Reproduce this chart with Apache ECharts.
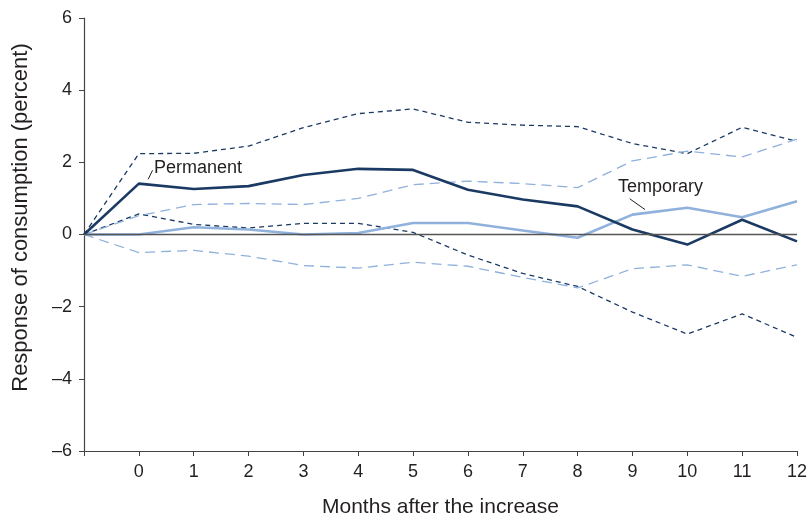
<!DOCTYPE html>
<html lang="en">
<head>
    <meta charset="UTF-8">
    <title>Response of consumption</title>
    <script src="https://cdn.jsdelivr.net/npm/echarts/dist/echarts.min.js"></script>
    <style>
        body { margin: 0; background: #fff; }
    </style>
</head>
<body>
    <div id="chart" style="width: 809px; height: 513px;"></div>
    <script>
        // months after the increase (-1 = before)
        const months = [-1, 0, 1, 2, 3, 4, 5, 6, 7, 8, 9, 10, 11, 12];

        const permanent = [0, 1.41, 1.26, 1.34, 1.65, 1.82, 1.79, 1.24, 0.97, 0.78, 0.14, -0.28, 0.41, -0.19];
        const permanentUpper = [0, 2.24, 2.25, 2.45, 2.96, 3.35, 3.48, 3.11, 3.03, 2.99, 2.52, 2.24, 2.97, 2.58];
        const permanentLower = [0, 0.57, 0.28, 0.18, 0.31, 0.31, 0.06, -0.57, -1.08, -1.44, -2.15, -2.76, -2.2, -2.85];

        const temporary = [0, 0, 0.2, 0.14, 0, 0.04, 0.32, 0.32, 0.11, -0.09, 0.55, 0.74, 0.48, 0.92];
        const temporaryUpper = [0, 0.52, 0.83, 0.86, 0.83, 1.0, 1.38, 1.48, 1.41, 1.3, 2.04, 2.31, 2.15, 2.64];
        const temporaryLower = [0, -0.5, -0.44, -0.6, -0.86, -0.93, -0.77, -0.88, -1.19, -1.48, -0.95, -0.84, -1.16, -0.84];

        const yTicks = [-6, -4, -2, 0, 2, 4, 6];

        const dark = '#1b3a63';
        const light = '#8fb1dc';
        const textColor = '#231f20';

        const pairs = arr => months.map((m, i) => [m, arr[i]]);

        const chart = echarts.init(document.getElementById('chart'));

        const options = {
            animation: false,
            textStyle: { fontFamily: 'Liberation Sans', color: textColor },
            grid: { left: 84, right: 12, top: 18, bottom: 62, outerBoundsMode: 'none' },
            xAxis: {
                type: 'value',
                min: -1,
                max: 12,
                interval: 1,
                name: 'Months after the increase',
                nameLocation: 'middle',
                nameGap: 46,
                nameTextStyle: { fontSize: 21, color: textColor },
                axisLine: { show: true, onZero: false, lineStyle: { color: '#444', width: 1.2 } },
                axisTick: { show: true, length: 5, lineStyle: { color: '#444' } },
                axisLabel: {
                    fontSize: 18, color: textColor, margin: 12,
                    formatter: v => (v < 0 ? '' : String(v))
                },
                splitLine: { show: false }
            },
            yAxis: {
                type: 'value',
                min: yTicks[0],
                max: yTicks[yTicks.length - 1],
                interval: 2,
                name: 'Response of consumption (percent)',
                nameLocation: 'middle',
                nameGap: 52,
                nameTextStyle: { fontSize: 22, color: textColor, padding: [0, 0, 0, 34] },
                axisLine: { show: true, onZero: false, lineStyle: { color: '#444', width: 1.2 } },
                axisTick: { show: true, length: 5, lineStyle: { color: '#444' } },
                axisLabel: {
                    fontSize: 18, color: textColor, margin: 12,
                    formatter: v => (v < 0 ? '\u2013' + Math.abs(v) : String(v))
                },
                splitLine: { show: false }
            },
            series: [
                {
                    name: 'Permanent upper', type: 'line', data: pairs(permanentUpper),
                    symbol: 'none', z: 2,
                    lineStyle: { color: dark, width: 1.3, type: [5, 4] }
                },
                {
                    name: 'Permanent lower', type: 'line', data: pairs(permanentLower),
                    symbol: 'none', z: 2,
                    lineStyle: { color: dark, width: 1.3, type: [5, 4] }
                },
                {
                    name: 'Temporary upper', type: 'line', data: pairs(temporaryUpper),
                    symbol: 'none', z: 2,
                    lineStyle: { color: light, width: 1.3, type: [10, 6] }
                },
                {
                    name: 'Temporary lower', type: 'line', data: pairs(temporaryLower),
                    symbol: 'none', z: 2,
                    lineStyle: { color: light, width: 1.3, type: [10, 6] }
                },
                {
                    name: 'Temporary', type: 'line', data: pairs(temporary),
                    symbol: 'none', z: 3,
                    lineStyle: { color: light, width: 2.6 },
                    markLine: {
                        silent: true, symbol: 'none', label: { show: false },
                        lineStyle: { color: textColor, width: 1, type: 'solid' },
                        data: [[{ coord: [8.95, 0.99] }, { coord: [9.23, 0.69] }]]
                    }
                },
                {
                    name: 'Permanent', type: 'line', data: pairs(permanent),
                    symbol: 'none', z: 4,
                    lineStyle: { color: dark, width: 2.6 },
                    markLine: {
                        silent: true, symbol: 'none', label: { show: false },
                        lineStyle: { color: textColor, width: 1, type: 'solid' },
                        data: [[{ coord: [0.17, 1.53] }, { coord: [0.25, 1.78] }]]
                    }
                },
                {
                    name: 'zero', type: 'line', data: [], z: 1,
                    markLine: {
                        silent: true, symbol: 'none', label: { show: false },
                        lineStyle: { color: '#555', width: 1.3, type: 'solid' },
                        data: [{ yAxis: 0 }]
                    }
                }
            ],
            graphic: [
                { type: 'text', left: 154, top: 159, style: { text: 'Permanent', font: '18px "Liberation Sans"', fill: textColor } },
                { type: 'text', left: 618, top: 178, style: { text: 'Temporary', font: '18px "Liberation Sans"', fill: textColor } }
            ]
        };

        chart.setOption(options);
    </script>
</body>
</html>
